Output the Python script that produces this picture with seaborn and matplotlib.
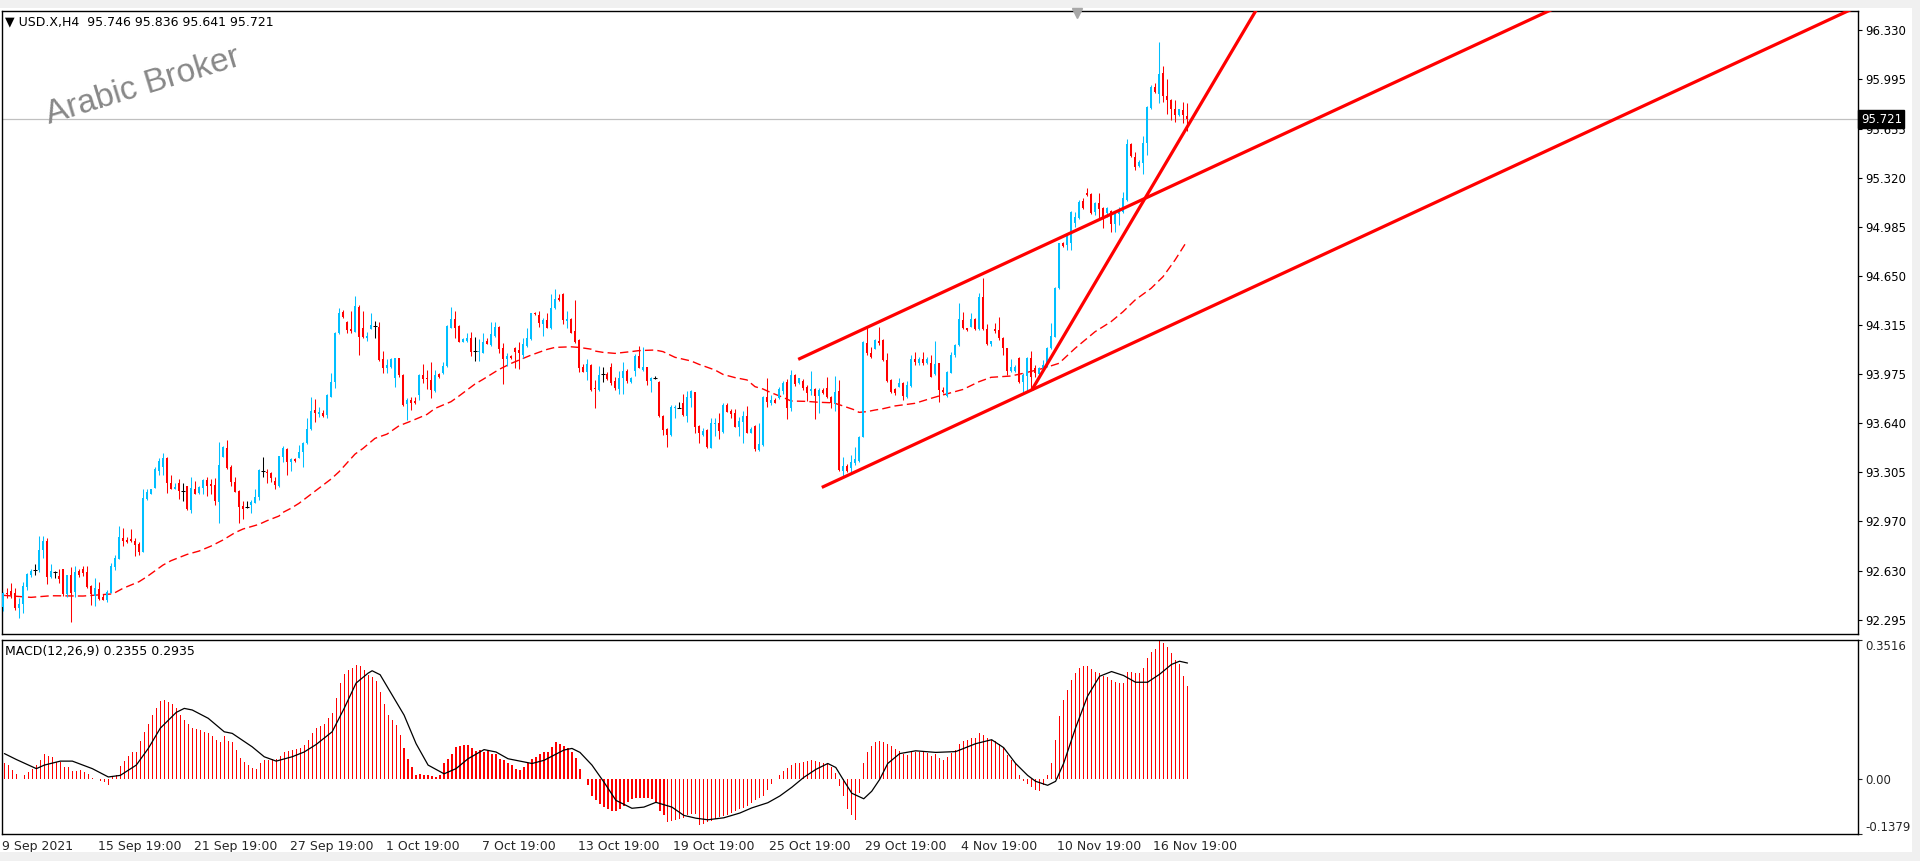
import numpy as np
import matplotlib
matplotlib.use("Agg")
import matplotlib.pyplot as plt
import matplotlib.transforms as mtransforms
from matplotlib.lines import Line2D
from matplotlib.patches import Rectangle
import seaborn as sns

sns.set_style("white")
plt.rcParams["font.family"] = ["DejaVu Sans"]

# USD.X H4 candles (bar 0 = 9 Sep 2021, last bar = 18 Nov)
opens = [
    92.383, 92.479, 92.493, 92.474, 92.372, 92.401, 92.520, 92.600, 92.634, 92.634,
    92.771, 92.833, 92.584, 92.620, 92.593, 92.639, 92.470, 92.598, 92.486, 92.625,
    92.639, 92.618, 92.525, 92.458, 92.506, 92.447, 92.431, 92.479, 92.657, 92.710,
    92.851, 92.840, 92.847, 92.835, 92.810, 92.760, 93.121, 93.157, 93.194, 93.315,
    93.337, 93.404, 93.232, 93.189, 93.230, 93.175, 93.210, 93.047, 93.187, 93.159,
    93.196, 93.248, 93.223, 93.214, 93.098, 93.410, 93.470, 93.337, 93.237, 93.173,
    93.073, 93.066, 93.077, 93.095, 93.132, 93.310, 93.308, 93.299, 93.246, 93.212,
    93.410, 93.463, 93.372, 93.397, 93.404, 93.444, 93.501, 93.597, 93.730, 93.702,
    93.707, 93.695, 93.821, 93.924, 94.255, 94.403, 94.335, 94.284, 94.266, 94.437,
    94.289, 94.220, 94.284, 94.305, 94.300, 94.079, 94.020, 94.022, 93.951, 94.083,
    93.969, 93.771, 93.798, 93.794, 93.832, 93.969, 93.951, 93.935, 93.862, 93.976,
    93.981, 94.031, 94.294, 94.351, 94.305, 94.198, 94.204, 94.225, 94.134, 94.127,
    94.122, 94.204, 94.175, 94.239, 94.300, 94.152, 94.079, 94.102, 94.152, 94.141,
    94.106, 94.170, 94.214, 94.396, 94.380, 94.319, 94.346, 94.289, 94.426, 94.499,
    94.524, 94.341, 94.353, 94.271, 94.209, 94.026, 93.992, 94.038, 93.878, 93.867,
    93.974, 93.977, 94.022, 93.929, 93.874, 93.947, 93.997, 93.924, 94.000, 94.100,
    94.004, 94.022, 93.931, 93.947, 93.924, 93.691, 93.600, 93.559, 93.742, 93.746,
    93.776, 93.689, 93.815, 93.851, 93.623, 93.559, 93.593, 93.472, 93.632, 93.639,
    93.577, 93.764, 93.726, 93.707, 93.616, 93.650, 93.691, 93.575, 93.621, 93.456,
    93.490, 93.821, 93.780, 93.799, 93.810, 93.863, 93.924, 93.742, 93.970, 93.913,
    93.929, 93.890, 93.860, 93.874, 93.828, 93.867, 93.883, 93.821, 93.776, 93.860,
    93.312, 93.349, 93.331, 93.365, 93.383, 93.547, 94.191, 94.123, 94.150, 94.205,
    94.210, 94.073, 93.936, 93.872, 93.890, 93.917, 93.821, 93.897, 94.077, 94.049,
    94.077, 94.049, 94.049, 93.977, 94.049, 93.867, 93.826, 93.986, 94.106, 94.175,
    94.346, 94.289, 94.301, 94.351, 94.282, 94.501, 94.282, 94.182, 94.285, 94.278,
    94.221, 94.152, 93.999, 93.999, 94.084, 93.924, 93.965, 94.084, 94.015, 93.977,
    94.008, 94.027, 94.152, 94.232, 94.563, 94.876, 94.860, 94.871, 95.013, 95.043,
    95.161, 95.218, 95.209, 95.088, 95.145, 95.111, 95.081, 95.095, 95.004, 95.072,
    95.088, 95.168, 95.552, 95.465, 95.401, 95.424, 95.561, 95.796, 95.944, 95.894,
    96.036, 95.880, 95.853, 95.789, 95.750, 95.785, 95.746,
]
highs = [
    92.486, 92.508, 92.543, 92.508, 92.440, 92.552, 92.616, 92.639, 92.675, 92.867,
    92.867, 92.851, 92.675, 92.627, 92.639, 92.643, 92.600, 92.657, 92.662, 92.639,
    92.662, 92.662, 92.532, 92.577, 92.554, 92.470, 92.497, 92.684, 92.737, 92.936,
    92.920, 92.863, 92.915, 92.851, 92.828, 93.189, 93.189, 93.189, 93.342, 93.399,
    93.433, 93.410, 93.285, 93.232, 93.257, 93.232, 93.212, 93.269, 93.244, 93.212,
    93.260, 93.269, 93.255, 93.262, 93.511, 93.484, 93.525, 93.353, 93.273, 93.182,
    93.109, 93.109, 93.114, 93.189, 93.326, 93.410, 93.326, 93.308, 93.273, 93.415,
    93.484, 93.472, 93.401, 93.401, 93.490, 93.513, 93.673, 93.816, 93.805, 93.752,
    93.730, 93.837, 93.981, 94.266, 94.426, 94.415, 94.341, 94.408, 94.513, 94.449,
    94.408, 94.266, 94.392, 94.339, 94.335, 94.134, 94.079, 94.083, 94.088, 94.088,
    93.974, 93.809, 93.821, 93.821, 93.976, 94.045, 94.004, 94.061, 94.004, 93.985,
    94.061, 94.310, 94.437, 94.408, 94.310, 94.220, 94.259, 94.266, 94.232, 94.214,
    94.259, 94.220, 94.335, 94.335, 94.305, 94.186, 94.118, 94.106, 94.163, 94.198,
    94.220, 94.289, 94.396, 94.403, 94.410, 94.357, 94.392, 94.524, 94.558, 94.524,
    94.529, 94.410, 94.362, 94.483, 94.214, 94.045, 94.079, 94.043, 93.935, 94.031,
    94.027, 93.993, 94.054, 93.954, 93.997, 94.061, 94.009, 93.958, 94.111, 94.168,
    94.159, 94.027, 93.958, 93.963, 93.929, 93.696, 93.605, 93.764, 93.764, 93.783,
    93.840, 93.860, 93.867, 93.856, 93.628, 93.605, 93.598, 93.678, 93.673, 93.707,
    93.776, 93.780, 93.735, 93.735, 93.684, 93.723, 93.758, 93.611, 93.625, 93.639,
    93.826, 93.947, 93.833, 93.810, 93.890, 93.929, 93.940, 94.004, 93.977, 93.952,
    93.940, 93.901, 93.997, 93.879, 93.879, 93.879, 93.954, 93.826, 93.963, 93.936,
    93.410, 93.360, 93.422, 93.479, 93.552, 94.205, 94.296, 94.164, 94.214, 94.296,
    94.214, 94.118, 93.940, 93.879, 93.947, 93.924, 93.931, 94.106, 94.129, 94.095,
    94.129, 94.090, 94.106, 94.205, 94.054, 93.890, 93.997, 94.129, 94.182, 94.460,
    94.403, 94.294, 94.397, 94.358, 94.529, 94.632, 94.319, 94.205, 94.323, 94.365,
    94.228, 94.157, 94.077, 94.038, 94.095, 93.986, 94.090, 94.136, 94.038, 94.027,
    94.072, 94.164, 94.323, 94.575, 94.876, 94.883, 94.940, 95.095, 95.088, 95.168,
    95.180, 95.248, 95.218, 95.157, 95.218, 95.123, 95.123, 95.100, 95.081, 95.118,
    95.225, 95.586, 95.556, 95.499, 95.442, 95.607, 95.812, 95.956, 95.967, 96.252,
    96.086, 95.995, 95.858, 95.853, 95.789, 95.842, 95.836,
]
lows = [
    92.353, 92.440, 92.440, 92.360, 92.308, 92.342, 92.497, 92.589, 92.600, 92.623,
    92.719, 92.538, 92.582, 92.582, 92.548, 92.456, 92.452, 92.280, 92.447, 92.589,
    92.593, 92.508, 92.395, 92.390, 92.429, 92.429, 92.417, 92.474, 92.634, 92.707,
    92.799, 92.817, 92.824, 92.732, 92.737, 92.760, 93.114, 93.157, 93.194, 93.285,
    93.285, 93.159, 93.189, 93.189, 93.121, 93.109, 93.045, 93.027, 93.155, 93.155,
    93.155, 93.143, 93.155, 93.079, 92.958, 93.406, 93.324, 93.210, 93.166, 92.954,
    92.986, 93.061, 93.027, 93.091, 93.114, 93.269, 93.228, 93.239, 93.187, 93.205,
    93.376, 93.285, 93.312, 93.374, 93.404, 93.341, 93.497, 93.593, 93.650, 93.684,
    93.679, 93.673, 93.816, 93.878, 94.250, 94.357, 94.255, 94.255, 94.262, 94.106,
    94.220, 94.204, 94.282, 94.225, 94.067, 93.985, 93.985, 94.020, 93.889, 93.958,
    93.759, 93.661, 93.730, 93.771, 93.798, 93.912, 93.871, 93.810, 93.855, 93.947,
    93.976, 94.026, 94.289, 94.220, 94.193, 94.193, 94.193, 94.099, 94.067, 94.067,
    94.118, 94.182, 94.168, 94.232, 94.122, 93.908, 94.031, 94.079, 94.015, 94.010,
    94.083, 94.163, 94.209, 94.380, 94.300, 94.236, 94.289, 94.282, 94.421, 94.478,
    94.316, 94.289, 94.255, 94.186, 93.992, 93.988, 93.935, 93.862, 93.746, 93.862,
    93.924, 93.936, 93.901, 93.867, 93.837, 93.837, 93.913, 93.913, 93.965, 94.016,
    93.997, 93.901, 93.856, 93.942, 93.684, 93.559, 93.479, 93.554, 93.673, 93.742,
    93.691, 93.650, 93.753, 93.575, 93.506, 93.554, 93.472, 93.468, 93.552, 93.529,
    93.570, 93.714, 93.673, 93.611, 93.554, 93.506, 93.570, 93.570, 93.451, 93.449,
    93.486, 93.748, 93.764, 93.776, 93.806, 93.840, 93.669, 93.726, 93.895, 93.906,
    93.867, 93.792, 93.833, 93.666, 93.707, 93.840, 93.810, 93.742, 93.726, 93.312,
    93.278, 93.308, 93.296, 93.353, 93.376, 93.543, 94.107, 94.089, 94.146, 94.175,
    94.068, 93.924, 93.844, 93.833, 93.885, 93.798, 93.810, 93.890, 94.038, 94.038,
    94.038, 94.045, 93.954, 93.970, 93.787, 93.849, 93.821, 93.981, 94.095, 94.171,
    94.282, 94.273, 94.296, 94.278, 94.278, 94.278, 94.175, 94.168, 94.255, 94.209,
    94.106, 93.970, 93.993, 93.993, 93.917, 93.856, 93.856, 93.867, 93.958, 93.970,
    94.004, 94.022, 94.145, 94.228, 94.559, 94.849, 94.826, 94.826, 94.986, 95.036,
    95.104, 95.196, 95.072, 95.065, 95.043, 94.974, 95.054, 94.951, 94.951, 94.997,
    95.081, 95.164, 95.465, 95.374, 95.396, 95.346, 95.476, 95.789, 95.903, 95.835,
    95.842, 95.757, 95.716, 95.705, 95.743, 95.693, 95.641,
]
closes = [
    92.474, 92.468, 92.465, 92.372, 92.401, 92.525, 92.605, 92.627, 92.634, 92.771,
    92.833, 92.584, 92.627, 92.620, 92.575, 92.470, 92.598, 92.474, 92.620, 92.598,
    92.616, 92.520, 92.468, 92.508, 92.433, 92.431, 92.484, 92.662, 92.719, 92.858,
    92.835, 92.824, 92.835, 92.808, 92.760, 93.125, 93.166, 93.187, 93.326, 93.381,
    93.404, 93.228, 93.191, 93.205, 93.173, 93.175, 93.052, 93.194, 93.157, 93.203,
    93.248, 93.212, 93.210, 93.105, 93.351, 93.474, 93.335, 93.239, 93.171, 93.068,
    93.054, 93.066, 93.100, 93.132, 93.319, 93.310, 93.296, 93.262, 93.216, 93.415,
    93.468, 93.376, 93.395, 93.378, 93.440, 93.506, 93.597, 93.723, 93.707, 93.716,
    93.691, 93.832, 93.924, 94.255, 94.396, 94.364, 94.278, 94.271, 94.442, 94.232,
    94.232, 94.236, 94.312, 94.305, 94.072, 94.015, 94.038, 94.079, 94.083, 93.969,
    93.764, 93.798, 93.775, 93.775, 93.969, 93.942, 93.940, 93.867, 93.969, 93.953,
    94.031, 94.305, 94.353, 94.294, 94.198, 94.214, 94.225, 94.129, 94.134, 94.136,
    94.198, 94.184, 94.250, 94.300, 94.147, 94.079, 94.102, 94.088, 94.129, 94.118,
    94.182, 94.220, 94.392, 94.385, 94.328, 94.346, 94.294, 94.426, 94.490, 94.483,
    94.346, 94.353, 94.259, 94.193, 94.015, 93.992, 94.045, 93.867, 93.871, 93.969,
    93.974, 93.942, 93.913, 93.879, 93.947, 93.997, 93.929, 93.952, 94.100, 94.020,
    94.027, 93.929, 93.952, 93.947, 93.689, 93.593, 93.559, 93.753, 93.753, 93.746,
    93.696, 93.821, 93.863, 93.616, 93.570, 93.586, 93.479, 93.639, 93.643, 93.586,
    93.764, 93.719, 93.703, 93.616, 93.655, 93.691, 93.575, 93.600, 93.463, 93.497,
    93.821, 93.783, 93.799, 93.780, 93.874, 93.917, 93.746, 93.970, 93.908, 93.947,
    93.879, 93.849, 93.874, 93.828, 93.867, 93.844, 93.817, 93.776, 93.851, 93.319,
    93.347, 93.312, 93.376, 93.395, 93.547, 94.198, 94.118, 94.095, 94.210, 94.191,
    94.073, 93.931, 93.856, 93.844, 93.913, 93.828, 93.901, 94.077, 94.056, 94.077,
    94.049, 94.077, 93.958, 94.043, 93.867, 93.856, 93.993, 94.106, 94.175, 94.351,
    94.289, 94.278, 94.351, 94.282, 94.501, 94.282, 94.182, 94.202, 94.271, 94.221,
    94.152, 93.999, 94.022, 94.027, 93.924, 93.970, 94.084, 93.958, 93.981, 94.015,
    94.038, 94.152, 94.237, 94.568, 94.871, 94.853, 94.922, 95.088, 95.054, 95.157,
    95.111, 95.202, 95.081, 95.150, 95.104, 95.054, 95.111, 95.004, 95.077, 95.088,
    95.180, 95.552, 95.470, 95.396, 95.431, 95.561, 95.803, 95.944, 95.910, 96.031,
    95.880, 95.853, 95.789, 95.750, 95.789, 95.750, 95.721,
]

# red dashed moving average on the price window (bar, price)
ma_bars = [0, 7, 12, 20, 27, 28, 30, 34, 36, 40, 42, 46, 49, 52, 55, 58, 60, 64, 66, 69,
           70, 72, 74, 82, 84, 88, 90, 93, 96, 99, 102, 106, 108, 112, 114, 118, 120, 124,
           127, 132, 136, 138, 142, 144, 147, 148, 150, 153, 157, 159, 163, 165, 168, 172,
           174, 178, 180, 183, 186, 188, 190, 192, 195, 197, 201, 204, 207, 208, 210, 213,
           214, 216, 218, 220, 223, 228, 232, 234, 240, 244, 247, 252, 255, 260, 264, 268,
           273, 277, 280, 283, 287, 290, 293, 296]
ma_vals = [92.461, 92.447, 92.458, 92.456, 92.470, 92.479, 92.509, 92.554, 92.589, 92.668,
           92.698, 92.741, 92.764, 92.798, 92.840, 92.890, 92.915, 92.947, 92.972, 93.004,
           93.029, 93.057, 93.091, 93.257, 93.307, 93.428, 93.467, 93.536, 93.565, 93.622,
           93.654, 93.700, 93.741, 93.787, 93.826, 93.908, 93.940, 94.008, 94.049, 94.106,
           94.145, 94.159, 94.163, 94.159, 94.147, 94.134, 94.125, 94.118, 94.130, 94.137,
           94.141, 94.130, 94.091, 94.066, 94.043, 94.004, 93.974, 93.952, 93.936, 93.890,
           93.874, 93.849, 93.817, 93.792, 93.789, 93.783, 93.780, 93.776, 93.758, 93.730,
           93.714, 93.719, 93.730, 93.739, 93.758, 93.776, 93.810, 93.826, 93.871, 93.924,
           93.954, 93.963, 93.981, 94.015, 94.050, 94.152, 94.266, 94.335, 94.403, 94.483,
           94.563, 94.643, 94.757, 94.887]

# MACD(12,26,9) histogram, one value per bar
macd_hist = [
    0.042, 0.036, 0.023, 0.014, 0.002, 0.010, 0.019, 0.027, 0.036, 0.048,
    0.065, 0.059, 0.057, 0.044, 0.044, 0.030, 0.030, 0.020, 0.021, 0.023,
    0.019, 0.014, 0.003, 0.002, -0.003, -0.007, -0.015, 0.006, 0.010, 0.034,
    0.046, 0.059, 0.068, 0.069, 0.096, 0.120, 0.139, 0.162, 0.179, 0.198,
    0.201, 0.196, 0.190, 0.181, 0.162, 0.150, 0.139, 0.129, 0.127, 0.124,
    0.120, 0.116, 0.110, 0.099, 0.095, 0.110, 0.096, 0.093, 0.074, 0.054,
    0.044, 0.036, 0.029, 0.027, 0.042, 0.048, 0.048, 0.052, 0.052, 0.059,
    0.069, 0.072, 0.074, 0.076, 0.078, 0.086, 0.099, 0.116, 0.129, 0.135,
    0.139, 0.154, 0.167, 0.206, 0.243, 0.266, 0.277, 0.281, 0.289, 0.285,
    0.277, 0.264, 0.257, 0.247, 0.220, 0.190, 0.162, 0.150, 0.137, 0.112,
    0.078, 0.052, 0.031, 0.012, 0.014, 0.012, 0.010, 0.008, 0.006, 0.010,
    0.040, 0.052, 0.065, 0.082, 0.084, 0.086, 0.086, 0.078, 0.071, 0.074,
    0.069, 0.071, 0.065, 0.063, 0.052, 0.048, 0.040, 0.036, 0.027, 0.023,
    0.031, 0.042, 0.052, 0.057, 0.063, 0.068, 0.069, 0.082, 0.093, 0.088,
    0.084, 0.080, 0.069, 0.054, 0.025, 0.000, -0.015, -0.041, -0.053, -0.062,
    -0.070, -0.076, -0.081, -0.079, -0.074, -0.066, -0.056, -0.049, -0.047, -0.047,
    -0.047, -0.047, -0.049, -0.056, -0.079, -0.091, -0.107, -0.104, -0.102, -0.100,
    -0.098, -0.091, -0.087, -0.087, -0.114, -0.112, -0.108, -0.104, -0.100, -0.096,
    -0.092, -0.089, -0.085, -0.080, -0.076, -0.072, -0.066, -0.059, -0.053, -0.047,
    -0.042, -0.028, -0.013, 0.000, 0.012, 0.022, 0.028, 0.036, 0.040, 0.042,
    0.044, 0.046, 0.048, 0.046, 0.044, 0.042, 0.038, 0.030, 0.015, -0.017,
    -0.042, -0.076, -0.089, -0.102, -0.034, 0.040, 0.070, 0.085, 0.095, 0.098,
    0.095, 0.090, 0.084, 0.076, 0.072, 0.064, 0.062, 0.068, 0.068, 0.070,
    0.068, 0.066, 0.060, 0.064, 0.055, 0.050, 0.056, 0.066, 0.074, 0.090,
    0.098, 0.100, 0.104, 0.104, 0.116, 0.112, 0.105, 0.100, 0.096, 0.090,
    0.080, 0.062, 0.050, 0.040, 0.012, -0.005, -0.012, -0.020, -0.028, -0.030,
    -0.015, 0.010, 0.040, 0.100, 0.160, 0.200, 0.225, 0.250, 0.268, 0.280,
    0.285, 0.285, 0.278, 0.272, 0.268, 0.260, 0.258, 0.250, 0.245, 0.242,
    0.244, 0.270, 0.272, 0.268, 0.268, 0.282, 0.305, 0.322, 0.330, 0.348,
    0.345, 0.335, 0.318, 0.300, 0.290, 0.262, 0.2355,
]
# MACD signal line (bar, value)
sig_bars = [0, 3, 8, 10, 14, 17, 22, 26, 29, 33, 36, 39, 43, 45, 47, 51, 55, 57, 62, 65,
            68, 72, 75, 78, 82, 85, 88, 91, 92, 94, 96, 100, 103, 106, 110, 113, 116, 120,
            123, 126, 132, 135, 140, 142, 144, 147, 150, 153, 157, 160, 163, 167, 170, 173,
            176, 180, 184, 187, 191, 194, 197, 200, 203, 206, 208, 210, 212, 215, 217, 219,
            221, 224, 228, 233, 238, 243, 247, 250, 253, 256, 258, 261, 263, 265, 268, 271,
            274, 277, 280, 283, 286, 289, 292, 294, 296]
sig_vals = [0.065, 0.050, 0.027, 0.036, 0.046, 0.046, 0.027, 0.006, 0.010, 0.036, 0.078,
            0.129, 0.169, 0.179, 0.175, 0.154, 0.120, 0.116, 0.082, 0.057, 0.046, 0.057,
            0.069, 0.088, 0.120, 0.179, 0.243, 0.268, 0.274, 0.264, 0.230, 0.162, 0.090,
            0.036, 0.014, 0.027, 0.052, 0.075, 0.069, 0.052, 0.040, 0.048, 0.074, 0.078,
            0.068, 0.036, -0.007, -0.053, -0.073, -0.070, -0.058, -0.070, -0.091, -0.098,
            -0.102, -0.097, -0.085, -0.072, -0.059, -0.042, -0.020, 0.005, 0.025, 0.040,
            0.030, -0.003, -0.035, -0.049, -0.030, 0.000, 0.040, 0.065, 0.072, 0.068,
            0.070, 0.090, 0.100, 0.080, 0.040, 0.010, -0.005, -0.015, -0.005, 0.040,
            0.130, 0.210, 0.260, 0.272, 0.262, 0.245, 0.245, 0.265, 0.290, 0.298, 0.2935]

# hand-drawn trend lines: (bar, price) -> (bar, price)
trend_lines = [((198.8, 94.077), (400.0, 96.636)),
               ((204.7, 93.200), (470.0, 96.575)),
               ((257.2, 93.867), (320.0, 96.780))]

price_ticks = [96.330, 95.995, 95.655, 95.320, 94.985, 94.650, 94.315,
               93.975, 93.640, 93.305, 92.970, 92.630, 92.295]
price_labels = ["96.330", "95.995", "95.655", "95.320", "94.985", "94.650", "94.315",
                "93.975", "93.640", "93.305", "92.970", "92.630", "92.295"]
date_bars = [0, 24, 48, 72, 96, 120, 144, 168, 192, 216, 240, 264, 288]
date_labels = ["9 Sep 2021", "15 Sep 19:00", "21 Sep 19:00", "27 Sep 19:00",
               "1 Oct 19:00", "7 Oct 19:00", "13 Oct 19:00", "19 Oct 19:00",
               "25 Oct 19:00", "29 Oct 19:00", "4 Nov 19:00", "10 Nov 19:00",
               "16 Nov 19:00"]
last_price = 95.721

BULL = "#00BFFF"
BEAR = "#FF0000"
W, H = 1920, 861

fig = plt.figure(figsize=(W / 100, H / 100), dpi=100, facecolor="white")
# window chrome
fig.patches.append(Rectangle((0, 1 - 8 / H), 1, 8 / H, transform=fig.transFigure,
                             facecolor="#F0F0F0", edgecolor="none", zorder=0))
fig.patches.append(Rectangle((0, 0), 1, 9 / H, transform=fig.transFigure,
                             facecolor="#F0F0F0", edgecolor="none", zorder=0))
fig.patches.append(Rectangle((1 - 8 / W, 0), 8 / W, 1, transform=fig.transFigure,
                             facecolor="#F0F0F0", edgecolor="none", zorder=0))

left, right = 2 / W, 1858 / W
ax = fig.add_axes([left, 1 - 634 / H, right - left, (634 - 11) / H])
axm = fig.add_axes([left, 1 - 834 / H, right - left, (834 - 640) / H])

idx = np.arange(len(closes))
o = np.array(opens); h = np.array(highs); l = np.array(lows); c = np.array(closes)
cols = np.where(c > o, BULL, np.where(c < o, BEAR, "black"))
doji = c == o

ax.vlines(idx, l, h, colors=cols, lw=0.75, zorder=3)
ax.bar(idx, np.abs(c - o), bottom=np.minimum(o, c), width=0.7, color=cols, lw=0, zorder=3)
ax.hlines(c[doji], idx[doji] - 0.4, idx[doji] + 0.4, colors="black", lw=0.75, zorder=3)

sns.lineplot(x=ma_bars, y=ma_vals, ax=ax, color=BEAR, lw=1.0, linestyle=(0, (6, 3)), zorder=2)

for (x0, y0), (x1, y1) in trend_lines:
    ax.plot([x0, x1], [y0, y1], color=BEAR, lw=2.3, solid_capstyle="butt", zorder=4)

ax.axhline(last_price, color="#C0C0C0", lw=0.9, zorder=1)

ax.set_xlim(-0.25, 463.75)
ax.set_ylim(92.196, 96.463)
ax.set_xticks([])
ax.yaxis.tick_right()
ax.set_yticks(price_ticks)
ax.set_yticklabels(price_labels)
ax.tick_params(axis="y", direction="out", length=3, width=0.8, pad=2, labelsize=8.5, colors="black")
ax.set_xlabel("")
ax.set_ylabel("")
for s in ax.spines.values():
    s.set_color("black")
    s.set_linewidth(1.0)

tr = mtransforms.blended_transform_factory(ax.transAxes, ax.transData)
ax.text(1.0015, last_price, "95.721", transform=tr, ha="left", va="center", color="white",
        fontsize=8.5, zorder=10, clip_on=False,
        bbox=dict(boxstyle="square,pad=0.2", fc="black", ec="black"))

# MACD window
axm.bar(idx, macd_hist, width=0.3, color=BEAR, lw=0, zorder=2)
sns.lineplot(x=sig_bars, y=sig_vals, ax=axm, color="black", lw=0.9, zorder=3)
axm.set_xlim(-0.25, 463.75)
axm.set_ylim(-0.1379, 0.3516)
axm.yaxis.tick_right()
axm.set_yticks([0.3516, 0.0, -0.1379])
axm.set_yticklabels(["0.3516", "0.00", "-0.1379"])
axm.tick_params(axis="y", direction="out", length=3, width=0.8, pad=2, labelsize=8.5)
yl = axm.get_yticklabels()
yl[0].set_va("top")
yl[2].set_va("bottom")
axm.set_xticks(np.array(date_bars) - 0.6)
axm.set_xticklabels(date_labels, ha="left")
axm.tick_params(axis="x", direction="out", length=3, width=0.8, pad=1, labelsize=9)
axm.set_xlabel("")
axm.set_ylabel("")
for s in axm.spines.values():
    s.set_color("black")
    s.set_linewidth(1.0)

# labels and watermark
fig.text(5 / W, 1 - 22 / H, "\u25BC USD.X,H4  95.746 95.836 95.641 95.721",
         fontsize=9, ha="left", va="center", color="black")
fig.text(5 / W, 1 - 651 / H, "MACD(12,26,9) 0.2355 0.2935",
         fontsize=9, ha="left", va="center", color="black")
fig.text(143 / W, 1 - 86 / H, "Arabic Broker", family=["Liberation Sans", "DejaVu Sans"],
         fontsize=24, color="#888888", rotation=17, ha="center", va="center")
fig.add_artist(Line2D([1077 / W], [1 - 13 / H], marker="v", markersize=7,
                      color="#A8A8A8", transform=fig.transFigure))

fig.savefig("out.png", dpi=100)
